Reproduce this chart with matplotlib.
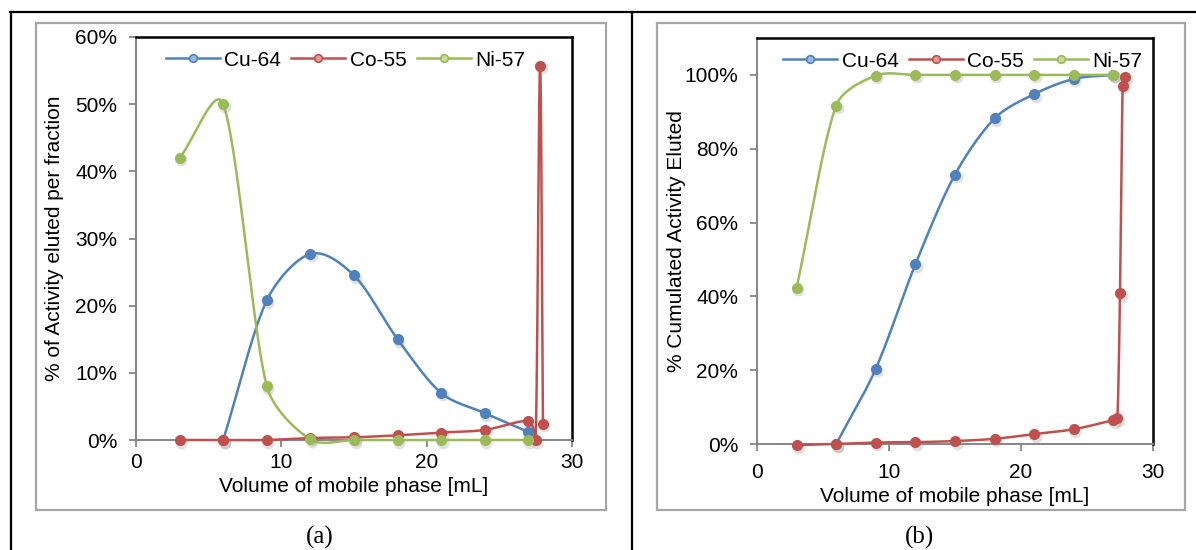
"""
Elution profiles of Cu-64, Co-55 and Ni-57: per fraction (a) and cumulated (b)
"""
import numpy as np
import matplotlib
matplotlib.use('Agg')
import matplotlib.pyplot as plt
from matplotlib import rcParams
from matplotlib.lines import Line2D
from matplotlib.patches import Rectangle
from matplotlib.ticker import FuncFormatter
from matplotlib.transforms import offset_copy

rcParams['font.family'] = ['Liberation Sans', 'DejaVu Sans']

# ---- data (a): % of activity eluted per fraction ----
cu_x_a = [6, 9, 12, 15, 18, 21, 24, 27]
cu_y_a = [0, 20.8, 27.7, 24.5, 15.0, 7.0, 4.0, 1.2]
co_x_a = [3, 6, 9, 12, 15, 18, 21, 24, 27, 27.5, 27.8, 28]
co_y_a = [0, 0, 0, 0.3, 0.4, 0.7, 1.1, 1.5, 2.8, 0, 55.7, 2.4]
ni_x_a = [3, 6, 9, 12, 15, 18, 21, 24, 27]
ni_y_a = [42.0, 50.0, 8.0, 0.1, 0, 0, 0, 0, 0]

# ---- data (b): % cumulated activity eluted ----
cu_x_b = [6, 9, 12, 15, 18, 21, 24, 27]
cu_y_b = [0, 20.4, 48.7, 73.0, 88.2, 94.8, 98.9, 100.0]
co_x_b = [3, 6, 9, 12, 15, 18, 21, 24, 27, 27.3, 27.5, 27.7, 27.9]
co_y_b = [-0.3, 0, 0.4, 0.5, 0.8, 1.4, 2.7, 4.0, 6.5, 7.0, 40.8, 97.0, 99.5]
ni_x_b = [3, 6, 9, 12, 15, 18, 21, 24, 27]
ni_y_b = [42.3, 91.7, 99.8, 100.0, 100.0, 100.0, 100.0, 100.0, 100.0]

labels = ['Cu-64', 'Co-55', 'Ni-57']
colors = ['#4F81BD', '#C0504D', '#9BBB59']
light = ['#9DBBE0', '#E09A98', '#C6DC9C']

W, H = 1196, 550
FS = 15


def smooth_curve(x, y, sx, sy, n=40):
    """Excel-like smoothed line, computed in pixel space"""
    p = np.column_stack([np.array(x, float) * sx, np.array(y, float) * sy])
    m = len(p)
    if m < 3:
        return np.array(x), np.array(y)
    seg = np.linalg.norm(np.diff(p, axis=0), axis=1)

    def ctrl(i, side):
        # control point next to p[i]; side=+1 outgoing, -1 incoming
        if i == 0 or i == m - 1:
            j = 1 if i == 0 else m - 2
            return p[i] + (p[j] - p[i]) / 3
        d = p[i + 1] - p[i - 1]
        nd = np.linalg.norm(d)
        if nd == 0:
            return p[i]
        s = seg[i] if side > 0 else seg[i - 1]
        length = min(s / 3, nd / 6)
        return p[i] + side * d / nd * length

    out = [p[0]]
    for i in range(m - 1):
        p0, p1 = p[i], p[i + 1]
        c0 = ctrl(i, 1)
        c1 = ctrl(i + 1, -1)
        t = np.linspace(0, 1, n)[1:, None]
        b = ((1 - t) ** 3) * p0 + 3 * ((1 - t) ** 2) * t * c0 + 3 * (1 - t) * t ** 2 * c1 + t ** 3 * p1
        out.extend(b)
    out = np.array(out)
    return out[:, 0] / sx, out[:, 1] / sy


def make_axes(fig, box_px, ylim, yticks, ylabel, xlab_y, ylab_x, xpad):
    l, t, r, b = box_px
    ax = fig.add_axes([l / W, 1 - b / H, (r - l) / W, (b - t) / H])
    ax.set_xlim(0, 30)
    ax.set_ylim(*ylim)
    ax.set_xticks([0, 10, 20, 30])
    ax.set_yticks(yticks)
    ax.yaxis.set_major_formatter(FuncFormatter(lambda v, _: f'{v:.0f}%'))
    for s in ['left', 'bottom']:
        ax.spines[s].set_color('#868686')
        ax.spines[s].set_linewidth(1.4)
    for s in ['top', 'right']:
        ax.spines[s].set_color('black')
        ax.spines[s].set_linewidth(1.8)
    ax.tick_params(direction='out', length=5, width=1.3, color='#868686',
                   labelsize=FS, labelcolor='black')
    ax.tick_params(axis='y', pad=8.5)
    ax.tick_params(axis='x', pad=xpad)
    ax.set_xlabel('Volume of mobile phase [mL]', fontsize=FS, va='center')
    ax.set_ylabel(ylabel, fontsize=FS, va='center')
    # label positions in pixels -> axes fraction
    ax.xaxis.set_label_coords(0.5, (b - xlab_y) / (b - t))
    ax.yaxis.set_label_coords((ylab_x - l) / (r - l), 0.5)
    return ax


def draw_series(ax, fig, x, y, color, lcolor, label, box_px):
    l, t, r, b = box_px
    sx = (r - l) / 30.0
    sy = (b - t) / (ax.get_ylim()[1] - ax.get_ylim()[0])
    xs, ys = smooth_curve(x, y, sx, sy)
    ax.plot(xs, ys, color=color, lw=1.8, clip_on=False, zorder=3,
            solid_capstyle='round')
    # marker shadow
    shadow = offset_copy(ax.transData, fig=fig, x=1.5, y=-2.5, units='dots')
    ax.plot(x, y, ls='none', marker='o', ms=8.5, color='#777777', alpha=0.22,
            mec='none', transform=shadow, clip_on=False, zorder=2)
    ax.plot(x, y, ls='none', marker='o', ms=7, color=color, mec=color,
            clip_on=False, zorder=4)
    return Line2D([], [], color=color, lw=1.8, marker='o', ms=5.5,
                  mfc=lcolor, mec=color, mew=1.2, label=label)


fig = plt.figure(figsize=(W / 100, H / 100), dpi=100)

# table frame
fig.add_artist(Line2D([10 / W, 1], [1 - 12 / H, 1 - 12 / H], color='black', lw=1.6))
fig.add_artist(Line2D([11 / W, 11 / W], [0, 1 - 12 / H], color='black', lw=1.6))
fig.add_artist(Line2D([632 / W, 632 / W], [0, 1 - 12 / H], color='black', lw=1.6))

# chart area boxes
for (l, t, r, b) in [(36, 23, 606, 510), (657, 23, 1185, 510)]:
    fig.add_artist(Rectangle((l / W, 1 - b / H), (r - l) / W, (b - t) / H,
                             transform=fig.transFigure, fill=False,
                             edgecolor='#A6A6A6', lw=1.6))

legend_kw = dict(loc='upper center', ncol=3, frameon=False, fontsize=FS,
                 handlelength=2.6, handletextpad=0.2, columnspacing=0.5,
                 borderaxespad=0.25)

# (a)
box_a = (136, 37, 572, 440)
ax1 = make_axes(fig, box_a, (0, 60), [0, 10, 20, 30, 40, 50, 60],
                '% of Activity eluted per fraction', 487, 55, 4)
handles = []
for x, y, c, lc, lab in [(cu_x_a, cu_y_a, colors[0], light[0], labels[0]),
                         (co_x_a, co_y_a, colors[1], light[1], labels[1]),
                         (ni_x_a, ni_y_a, colors[2], light[2], labels[2])]:
    handles.append(draw_series(ax1, fig, x, y, c, lc, lab, box_a))
ax1.legend(handles=handles, bbox_to_anchor=(0.48, 1.0), **legend_kw)

# (b)
box_b = (757, 38, 1153, 444)
ax2 = make_axes(fig, box_b, (0, 110), [0, 20, 40, 60, 80, 100],
                '% Cumulated Activity Eluted', 496, 676, 9)
handles = []
for x, y, c, lc, lab in [(cu_x_b, cu_y_b, colors[0], light[0], labels[0]),
                         (co_x_b, co_y_b, colors[1], light[1], labels[1]),
                         (ni_x_b, ni_y_b, colors[2], light[2], labels[2])]:
    handles.append(draw_series(ax2, fig, x, y, c, lc, lab, box_b))
ax2.legend(handles=handles, bbox_to_anchor=(0.52, 1.0), **legend_kw)

# captions
fig.text(320 / W, 1 - 537 / H, '(a)', ha='center', va='center', fontsize=18,
         family=['Liberation Serif', 'DejaVu Serif'])
fig.text(920 / W, 1 - 537 / H, '(b)', ha='center', va='center', fontsize=18,
         family=['Liberation Serif', 'DejaVu Serif'])

fig.savefig('out.png', dpi=100)
